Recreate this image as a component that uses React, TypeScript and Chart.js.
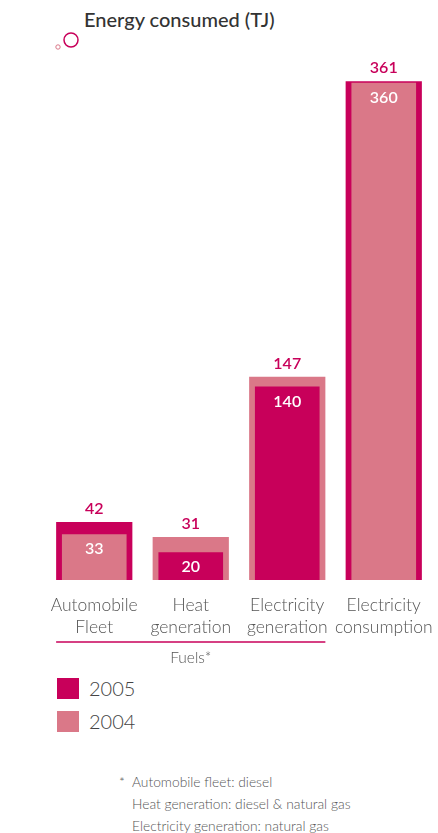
import React, { useEffect, useRef } from "react";
import { Chart, registerables } from "chart.js";

Chart.register(...registerables);

const categories: string[][] = [
  ["Automobile", "Fleet"],
  ["Heat", "generation"],
  ["Electricity", "generation"],
  ["Electricity", "consumption"],
];
const years = ["2005", "2004"];
const values2005 = [42, 20, 140, 361];
const values2004 = [33, 31, 147, 360];
const footnotes = [
  "Automobile fleet: diesel",
  "Heat generation: diesel & natural gas",
  "Electricity generation: natural gas",
];
const groupLabel = "Fuels*";

const DARK = "#C8005A";
const LIGHT = "#DA7888";
const yearColors = [DARK, LIGHT];
const FONT = "Lato, 'Open Sans', sans-serif";

export default function App() {
  const canvasRef = useRef<HTMLCanvasElement | null>(null);

  useEffect(() => {
    const outerVals = values2005.map((v, i) => Math.max(v, values2004[i]));
    const innerVals = values2005.map((v, i) => Math.min(v, values2004[i]));
    const outerColors = values2005.map((v, i) => (v >= values2004[i] ? DARK : LIGHT));
    const innerColors = values2005.map((v, i) => (v >= values2004[i] ? LIGHT : DARK));

    const labelPlugin = {
      id: "labels",
      afterDatasetsDraw(chart: any) {
        const ctx = chart.ctx;
        const outerMeta = chart.getDatasetMeta(1);
        const innerMeta = chart.getDatasetMeta(0);
        ctx.save();
        ctx.textAlign = "center";
        ctx.textBaseline = "middle";
        ctx.font = `600 16px ${FONT}`;
        outerMeta.data.forEach((bar: any, i: number) => {
          ctx.fillStyle = DARK;
          ctx.fillText(String(outerVals[i]), bar.x, bar.y - 13);
        });
        innerMeta.data.forEach((bar: any, i: number) => {
          ctx.fillStyle = "#ffffff";
          ctx.fillText(String(innerVals[i]), bar.x, bar.y + 15);
        });
        const a = outerMeta.data[0];
        const b = outerMeta.data[2];
        const left = a.x - a.width / 2;
        const right = b.x + b.width / 2;
        const ly = chart.chartArea.bottom + 62;
        ctx.strokeStyle = DARK;
        ctx.lineWidth = 1.5;
        ctx.beginPath();
        ctx.moveTo(left, ly);
        ctx.lineTo(right, ly);
        ctx.stroke();
        ctx.fillStyle = "#555";
        ctx.font = `300 15.5px ${FONT}`;
        ctx.fillText(groupLabel, (left + right) / 2, ly + 16);
        ctx.restore();
      },
    };

    const chart = new Chart(canvasRef.current as HTMLCanvasElement, {
      type: "bar",
      data: {
        labels: categories,
        datasets: [
          {
            label: "inner",
            data: innerVals,
            backgroundColor: innerColors,
            barPercentage: 0.67,
            categoryPercentage: 1,
            grouped: false,
            order: 0,
          },
          {
            label: "outer",
            data: outerVals,
            backgroundColor: outerColors,
            barPercentage: 0.79,
            categoryPercentage: 1,
            grouped: false,
            order: 1,
          },
        ],
      },
      options: {
        responsive: false,
        animation: false,
        layout: { padding: { left: 46, right: 6, top: 55, bottom: 18 } },
        plugins: { legend: { display: false }, tooltip: { enabled: false } },
        scales: {
          x: {
            grid: { display: false, drawTicks: false },
            border: { display: false },
            afterFit: (scale: any) => {
              scale.paddingLeft = 0;
              scale.paddingRight = 0;
            },
            ticks: {
              color: "#555",
              padding: 14,
              maxRotation: 0,
              autoSkip: false,
              font: { family: FONT, size: 17.5, weight: "300", lineHeight: 1.26 },
            },
          },
          y: { display: false, min: 0, max: 380 },
        },
      },
      plugins: [labelPlugin],
    });
    return () => chart.destroy();
  }, []);

  return (
    <div
      style={{
        position: "absolute",
        left: 0,
        top: 0,
        width: 438,
        height: 833,
        background: "#fff",
        fontFamily: FONT,
        overflow: "hidden",
      }}
    >
      <svg width={438} height={60} style={{ position: "absolute", left: 0, top: 0 }}>
        <circle cx={71} cy={40} r={7} fill="none" stroke={DARK} strokeWidth={1.5} />
        <circle cx={58} cy={47} r={2.2} fill="none" stroke={LIGHT} strokeWidth={1} />
      </svg>
      <div
        style={{
          position: "absolute",
          left: 84,
          top: 7,
          fontSize: 20,
          color: "#333",
          fontWeight: 500,
          whiteSpace: "nowrap",
        }}
      >
        Energy consumed (TJ)
      </div>
      <canvas
        ref={canvasRef}
        width={438}
        height={670}
        style={{ position: "absolute", left: 0, top: 0, width: 438, height: 670 }}
      />
      {years.map((y, i) => (
        <div
          key={y}
          style={{ position: "absolute", left: 57, top: 677 + i * 33, height: 22, display: "flex", alignItems: "center" }}
        >
          <div style={{ width: 22, height: 21, background: yearColors[i] }} />
          <span style={{ marginLeft: 10, fontSize: 20, fontWeight: 300, color: "#444", lineHeight: "22px" }}>{y}</span>
        </div>
      ))}
      <div style={{ position: "absolute", left: 119, top: 771, fontSize: 13.8, color: "#555", fontWeight: 300, lineHeight: "22px" }}>
        {footnotes.map((t, i) => (
          <div key={i} style={{ whiteSpace: "nowrap" }}>
            <span style={{ display: "inline-block", width: 13 }}>{i === 0 ? "*" : ""}</span>
            {t}
          </div>
        ))}
      </div>
    </div>
  );
}
